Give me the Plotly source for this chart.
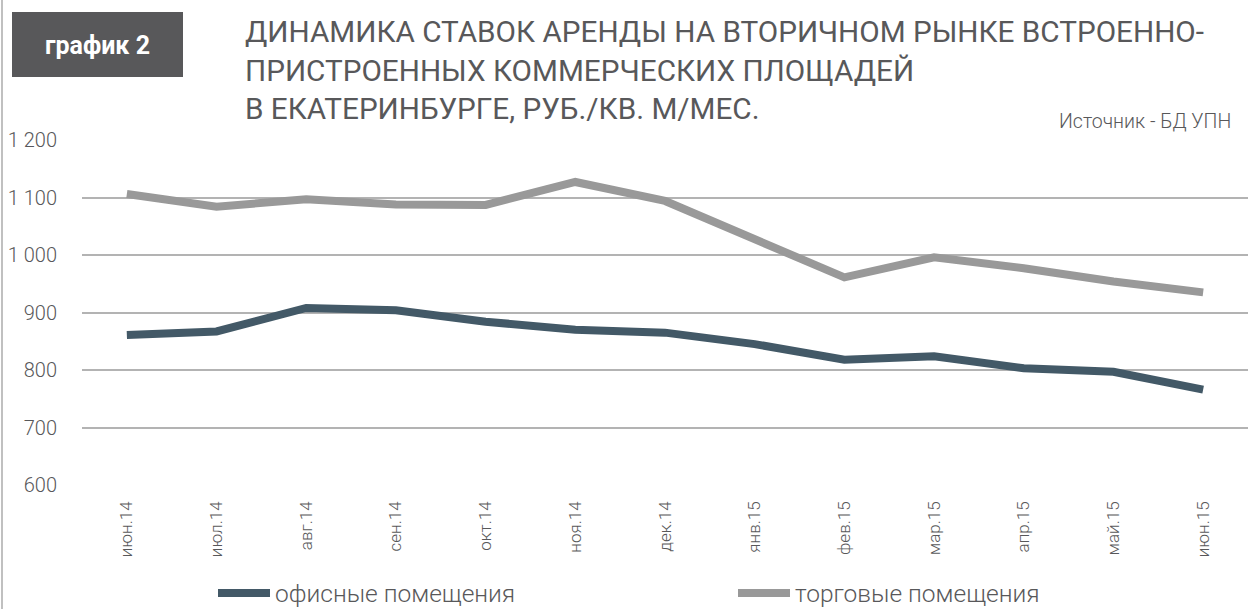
import plotly.graph_objects as go

months = ["июн.14", "июл.14", "авг.14", "сен.14", "окт.14", "ноя.14", "дек.14",
          "янв.15", "фев.15", "мар.15", "апр.15", "май.15", "июн.15"]
office = [861, 867, 908, 904, 884, 870, 865, 845, 818, 824, 803, 797, 766]
retail = [1106, 1084, 1097, 1088, 1087, 1127, 1094, 1027, 961, 996, 977, 954, 935]
series_names = ["офисные помещения", "торговые помещения"]
y_ticks = [600, 700, 800, 900, 1000, 1100, 1200]

title_lines = ["ДИНАМИКА СТАВОК АРЕНДЫ НА ВТОРИЧНОМ РЫНКЕ ВСТРОЕННО-",
               "ПРИСТРОЕННЫХ КОММЕРЧЕСКИХ ПЛОЩАДЕЙ",
               "В ЕКАТЕРИНБУРГЕ, РУБ./КВ. М/МЕС."]
badge = "график 2"
source = "Источник - БД УПН"

FONT = "Roboto, 'Open Sans', sans-serif"
TXT = "#58585a"
W, H = 1252, 609
L, R, T, B = 82, 4, 140, 124
PW, PH = W - L - R, H - T - B


def px(x):
    return (x - L) / PW


def py(y):
    return (H - B - y) / PH


fig = go.Figure()
fig.add_trace(go.Scatter(x=months, y=office, mode="lines", name=series_names[0],
                         line=dict(color="#435967", width=8)))
fig.add_trace(go.Scatter(x=months, y=retail, mode="lines", name=series_names[1],
                         line=dict(color="#999999", width=8)))

fig.update_layout(
    width=W, height=H,
    margin=dict(l=L, r=R, t=T, b=B),
    paper_bgcolor="white", plot_bgcolor="white",
    separators=", ",
    font=dict(family=FONT, color=TXT),
    showlegend=True,
    legend=dict(orientation="h", xref="container", yref="container",
                x=213 / W, xanchor="left", y=1 - 593 / H, yanchor="middle",
                entrywidth=453, entrywidthmode="pixels", itemwidth=52,
                font=dict(size=24.5, color=TXT, family=FONT, weight=300),
                bgcolor="rgba(0,0,0,0)"),
    xaxis=dict(type="category", range=[-0.5, 12.5], showgrid=False, zeroline=False,
               showline=False, ticks="", tickangle=-90, ticklabelstandoff=12,
               tickfont=dict(size=17, color=TXT, family=FONT, weight=300)),
    yaxis=dict(range=[600, 1200], tickvals=y_ticks, tickformat=",d",
               showgrid=True, gridcolor="#b3b3b3", gridwidth=1.5, zeroline=False,
               showline=False, ticks="", ticklabelstandoff=24,
               tickfont=dict(size=20, color=TXT, family=FONT, weight=300)),
)

# left border line
fig.add_shape(type="line", xref="paper", yref="paper",
              x0=px(2), x1=px(2), y0=py(H), y1=py(0),
              line=dict(color="#c0c0c0", width=2), layer="above")

# badge
fig.add_shape(type="rect", xref="paper", yref="paper",
              x0=px(12), x1=px(183), y0=py(77), y1=py(12),
              fillcolor="#58585a", line=dict(width=0), layer="below")
fig.add_annotation(xref="paper", yref="paper", x=px(97), y=py(45),
                   xanchor="center", yanchor="middle",
                   text="<b>" + badge + "</b>", showarrow=False,
                   font=dict(size=25, color="white", family=FONT))

# title
fig.add_annotation(xref="paper", yref="paper", x=px(243), xanchor="left",
                   y=py(12), yanchor="top", align="left",
                   text="<br>".join(title_lines), showarrow=False,
                   font=dict(size=29.7, color=TXT, family=FONT))

# source
fig.add_annotation(xref="paper", yref="paper", x=px(1233), xanchor="right",
                   y=py(121), yanchor="middle",
                   text=source, showarrow=False,
                   font=dict(size=19.5, color=TXT, family=FONT, weight=300))

fig.write_html("out.html")
